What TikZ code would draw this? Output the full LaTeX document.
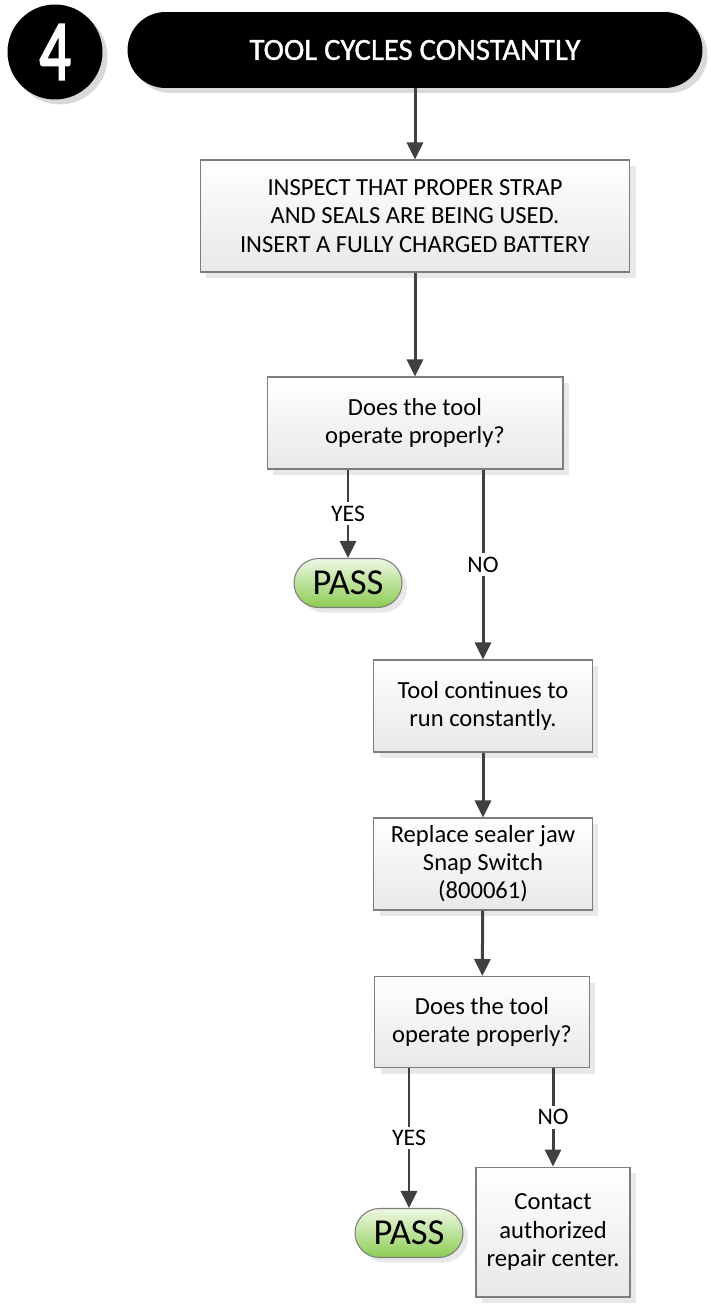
\documentclass[tikz,border=0pt]{standalone}
\usepackage{fontspec}
\setmainfont{Carlito}
\newfontfamily\numfont[FakeBold=3]{Carlito}
\newfontfamily\titlefont[FakeBold=1]{Carlito}
\usetikzlibrary{arrows.meta,shadows}

\definecolor{linegray}{RGB}{64,64,64}
\definecolor{boxedge}{RGB}{125,125,125}
\definecolor{passtop}{RGB}{238,248,228}
\definecolor{passbot}{RGB}{140,204,82}

\tikzset{
  box/.style={draw=boxedge, line width=0.6pt, top color=white, bottom color=black!9,
    align=center, inner sep=2pt, font=\fontsize{14}{16}\selectfont,
    drop shadow={shadow xshift=0.12cm, shadow yshift=-0.12cm, opacity=0.18}},
  pass/.style={draw=boxedge, line width=0.6pt, top color=passtop, bottom color=passbot,
    rounded corners=0.49cm, minimum width=2.16cm, minimum height=0.98cm,
    font=\fontsize{20.8}{22}\selectfont,
    drop shadow={shadow xshift=0.1cm, shadow yshift=-0.1cm, opacity=0.18}},
  arr/.style={draw=linegray, line width=1.7pt, -{Triangle[length=0.34cm, width=0.32cm]}},
  lbl/.style={fill=white, inner sep=2pt, font=\fontsize{13.5}{15}\selectfont}
}

\begin{document}
\begin{tikzpicture}[x=0.02cm, y=-0.02cm]
    \useasboundingbox (0,0) rectangle (710,1304);

    % Step number and title bar
    \node[circle, fill=black, minimum size=1.9cm, inner sep=0pt, text=white,
      drop shadow={shadow xshift=0.1cm, shadow yshift=-0.1cm, opacity=0.3}]
      (num) at (55,52) {\numfont\fontsize{44}{44}\selectfont\scalebox{0.8}[1.1]{4}};
    \node[fill=black, rounded corners=0.76cm, minimum width=11.5cm, minimum height=1.52cm,
      text=white, font=\titlefont\fontsize{17.5}{20}\selectfont,
      drop shadow={shadow xshift=0.1cm, shadow yshift=-0.1cm, opacity=0.3}]
      (title) at (415,50) {TOOL CYCLES CONSTANTLY};

    % Boxes
    \node[box, minimum width=8.6cm, minimum height=2.24cm] (inspect) at (415,216)
      {INSPECT THAT PROPER STRAP\\AND SEALS ARE BEING USED.\\INSERT A FULLY CHARGED BATTERY};
    \node[box, minimum width=5.92cm, minimum height=1.84cm] (check1) at (415,423)
      {Does the tool\\operate properly?};
    \node[pass] (pass1) at (348,583) {PASS};
    \node[box, minimum width=4.38cm, minimum height=1.84cm] (runs) at (483,706)
      {Tool continues to\\run constantly.};
    \node[box, minimum width=4.38cm, minimum height=1.84cm] (replace) at (483,864)
      {Replace sealer jaw\\Snap Switch\\(800061)};
    \node[box, minimum width=4.3cm, minimum height=1.82cm] (check2) at (482,1022)
      {Does the tool\\operate properly?};
    \node[pass] (pass2) at (409,1233) {PASS};
    \node[box, minimum width=3.08cm, minimum height=2.6cm] (contact) at (553,1232)
      {Contact\\authorized\\repair center.};

    % Connectors
    \draw[arr] (title) -- (inspect);
    \draw[arr] (inspect) -- (check1);
    \draw[arr] (check1.south -| pass1) -- node[lbl] {YES} (pass1.north);
    \draw[arr] (check1.south -| runs) -- node[lbl] {NO} (runs.north);
    \draw[arr] (runs) -- (replace);
    \draw[arr] (replace) -- (check2);
    \draw[arr] (check2.south -| pass2) -- node[lbl] {YES} (pass2.north);
    \draw[arr] (check2.south -| contact) -- node[lbl] {NO} (contact.north);
\end{tikzpicture}
\end{document}
